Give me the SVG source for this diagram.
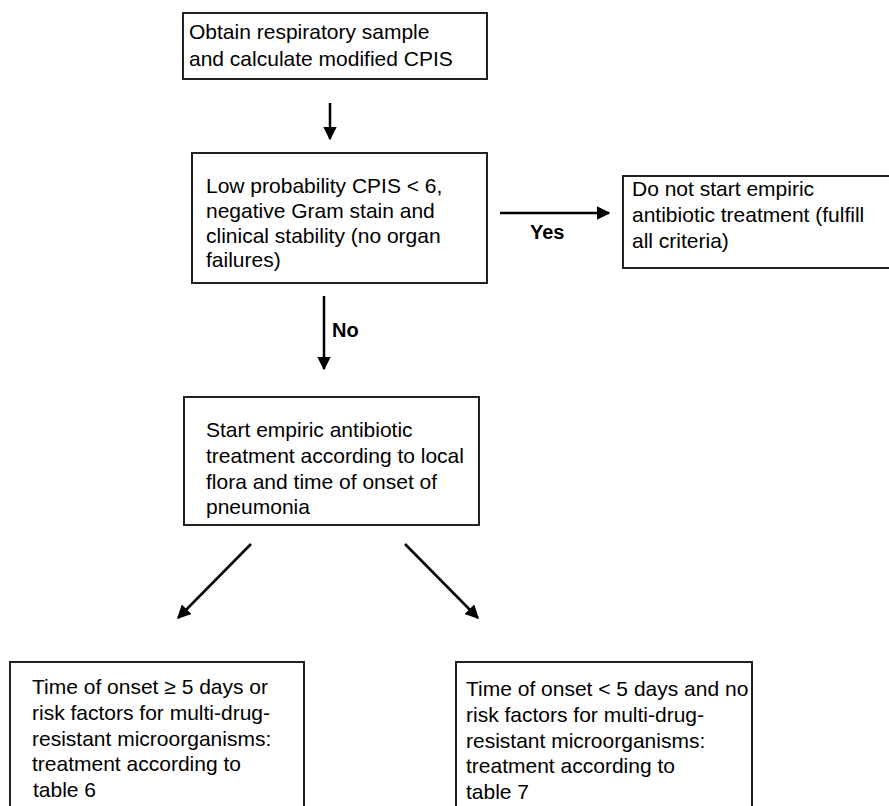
<svg xmlns="http://www.w3.org/2000/svg" width="889" height="806" viewBox="0 0 889 806">
<defs>
<style>
.box{fill:#fff;stroke:#222;stroke-width:2}
.t{font-family:"Liberation Sans",Arial,sans-serif;font-size:21px;fill:#000}
.b{font-family:"Liberation Sans",Arial,sans-serif;font-size:20px;font-weight:bold;fill:#000}
.c{stroke:#000;stroke-width:2.5;fill:none}
</style>
<marker id="ah" viewBox="0 0 10 10" refX="9" refY="5" markerWidth="5.5" markerHeight="5.5" orient="auto" markerUnits="strokeWidth">
<path d="M0,0 L10,5 L0,10 Z" fill="#000"/>
</marker>
</defs>
<rect width="889" height="806" fill="#fff"/>
<g id="n1">
<rect class="box" x="183" y="13" width="304" height="66"/>
<text class="t" x="189" y="39">Obtain respiratory sample</text>
<text class="t" x="189" y="66">and calculate modified CPIS</text>
</g>
<g id="n2">
<rect class="box" x="192" y="153" width="295" height="130"/>
<text class="t" x="206" y="193">Low probability CPIS &lt; 6,</text>
<text class="t" x="206" y="218">negative Gram stain and</text>
<text class="t" x="206" y="243">clinical stability (no organ</text>
<text class="t" x="206" y="267">failures)</text>
</g>
<g id="n3">
<rect class="box" x="623" y="176" width="270" height="92"/>
<text class="t" x="632" y="196">Do not start empiric</text>
<text class="t" x="632" y="222">antibiotic treatment (fulfill</text>
<text class="t" x="632" y="248">all criteria)</text>
</g>
<g id="n4">
<rect class="box" x="184" y="397" width="295" height="128"/>
<text class="t" x="206" y="437">Start empiric antibiotic</text>
<text class="t" x="206" y="463">treatment according to local</text>
<text class="t" x="206" y="489">flora and time of onset of</text>
<text class="t" x="206" y="514">pneumonia</text>
</g>
<g id="n5">
<rect class="box" x="10" y="662" width="294" height="160"/>
<text class="t" x="32" y="694">Time of onset ≥ 5 days or</text>
<text class="t" x="32" y="720">risk factors for multi-drug-</text>
<text class="t" x="32" y="746">resistant microorganisms:</text>
<text class="t" x="32" y="771">treatment according to</text>
<text class="t" x="33" y="797">table 6</text>
</g>
<g id="n6">
<rect class="box" x="456" y="662" width="296" height="160"/>
<text class="t" x="466" y="696">Time of onset &lt; 5 days and no</text>
<text class="t" x="466" y="722">risk factors for multi-drug-</text>
<text class="t" x="466" y="748">resistant microorganisms:</text>
<text class="t" x="466" y="773">treatment according to</text>
<text class="t" x="466" y="799">table 7</text>
</g>
<g id="connectors">
<line class="c" x1="330" y1="103" x2="330" y2="139" marker-end="url(#ah)"/>
<line class="c" x1="500" y1="213" x2="609" y2="213" marker-end="url(#ah)"/>
<text class="b" x="530" y="239">Yes</text>
<line class="c" x1="324" y1="296" x2="324" y2="369" marker-end="url(#ah)"/>
<text class="b" x="332" y="337">No</text>
<line class="c" x1="251" y1="544" x2="178" y2="618" marker-end="url(#ah)"/>
<line class="c" x1="405" y1="544" x2="478" y2="618" marker-end="url(#ah)"/>
</g>
</svg>
